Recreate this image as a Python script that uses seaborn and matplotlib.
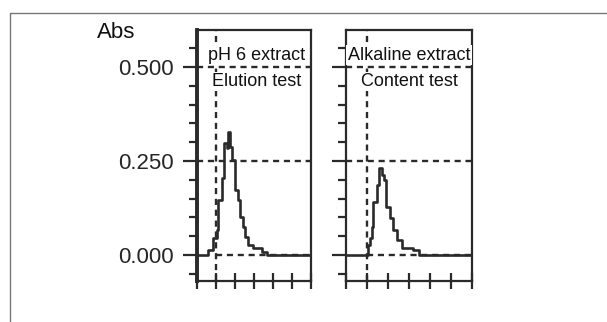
import numpy as np
import pandas as pd
import seaborn as sns
import matplotlib.pyplot as plt
from matplotlib.lines import Line2D
from matplotlib.ticker import MultipleLocator

ph6_x = [0, 0.60, 0.86, 1.04, 1.12, 1.30, 1.44, 1.56, 1.65, 1.74, 1.82, 2.00,
         2.14, 2.26, 2.40, 2.53, 2.70, 2.96, 3.40, 3.67, 6.0]
ph6_y = [0, 0.013, 0.045, 0.066, 0.146, 0.205, 0.298, 0.285, 0.327, 0.287,
         0.253, 0.173, 0.146, 0.100, 0.075, 0.048, 0.027, 0.019, 0.008, 0, 0]

alk_x = [0, 1.06, 1.16, 1.22, 1.30, 1.46, 1.57, 1.70, 1.81, 1.90, 2.10, 2.25,
         2.41, 2.65, 3.21, 3.49, 6.0]
alk_y = [0, 0.027, 0.045, 0.075, 0.141, 0.186, 0.231, 0.213, 0.200, 0.128,
         0.098, 0.066, 0.040, 0.019, 0.013, 0, 0]

panel_titles = [["pH 6 extract", "Elution test"], ["Alkaline extract", "Content test"]]
y_ticks = [0.0, 0.25, 0.5]
y_ticklabels = ["0.000", "0.250", "0.500"]
x_ticks = [0, 1, 2, 3, 4, 5, 6]
marker_x = 1.0   # vertical dashed reference

sns.set_theme(style="white")
plt.rcParams['font.family'] = ['Liberation Sans', 'DejaVu Sans']

W, H = 607, 322
fig = plt.figure(figsize=(W / 100, H / 100), dpi=100)

def fx(px):
    return px / W

def fy(py):
    return 1 - py / H

# outer frame (top and left edges only visible)
fig.add_artist(Line2D([fx(10), 1], [fy(13), fy(13)], color="#777777", lw=1))
fig.add_artist(Line2D([fx(10), fx(10)], [fy(13), 0], color="#777777", lw=1))

panels = [(197, 311, ph6_x, ph6_y), (346, 472, alk_x, alk_y)]
ink = "#2a2a2a"
dash = (0, (2.6, 2.0))

for i, (left, right, xs, ys) in enumerate(panels):
    ax = fig.add_axes([fx(left), fy(281), (right - left) / W, (281 - 30) / H])
    ax.set_xlim(0, 6)
    ax.set_ylim(-0.069, 0.598)

    # reference lines
    for yv in [0.5, 0.25]:
        ax.axhline(yv, color=ink, lw=1.7, ls=dash, zorder=1)
    ax.axvline(marker_x, color=ink, lw=1.7, ls=dash, zorder=1)
    ax.hlines(0, marker_x, 6, color=ink, lw=1.7, ls=dash, zorder=1)

    df = pd.DataFrame({"x": xs, "y": ys})
    sns.lineplot(data=df, x="x", y="y", ax=ax, color=ink, lw=1.9,
                 drawstyle="steps-post", zorder=3)

    ax.set_xlabel("")
    ax.set_ylabel("")
    ax.set_xticks(x_ticks)
    ax.set_xticklabels([])
    ax.set_yticks(y_ticks)
    ax.yaxis.set_minor_locator(MultipleLocator(0.05))
    if i == 0:
        ax.set_yticklabels(y_ticklabels, fontsize=16)
    else:
        ax.set_yticklabels([])
    ax.tick_params(axis="y", which="major", direction="out", length=10,
                   width=1.6, color=ink, pad=7, left=True)
    ax.tick_params(axis="y", which="minor", direction="out", length=6,
                   width=1.6, color=ink, left=True)
    ax.tick_params(axis="x", direction="inout", length=12, width=1.6,
                   color=ink, bottom=True)

    for name, sp in ax.spines.items():
        sp.set_color(ink)
        sp.set_linewidth(1.6)
        sp.set_visible(True)
    if i == 0:
        ax.spines["left"].set_linewidth(2.8)

    xc = 0.525 if i == 0 else 0.5
    for txt, yy in zip(panel_titles[i], [0.90, 0.795]):
        ax.text(xc, yy, txt, transform=ax.transAxes, ha="center", va="center",
                fontsize=13, color="#111111", zorder=5, clip_on=False,
                bbox=dict(facecolor="white", edgecolor="none", pad=1.0))

fig.text(fx(135), fy(32), "Abs", ha="right", va="center", fontsize=16, color="#111111")

fig.savefig("out.png", dpi=100)
